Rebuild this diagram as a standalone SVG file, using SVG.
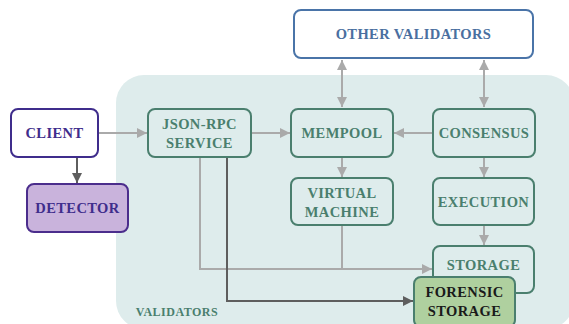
<svg xmlns="http://www.w3.org/2000/svg" width="569" height="324" viewBox="0 0 569 324">
<style>
text{font-family:"Liberation Serif","Times New Roman",serif;font-weight:bold;font-size:14.5px;letter-spacing:0.4px;text-anchor:middle;dominant-baseline:central}
.g rect{fill:#deecec;stroke:#4a7f6e;stroke-width:2}
.g text{fill:#4a7f6e}
.ln{fill:none;stroke:#aaaaaa;stroke-width:2}
.dk{fill:none;stroke:#5e5e5e;stroke-width:2}
</style>
<defs>
<marker id="ag" viewBox="0 0 10 10" refX="10" refY="5" markerWidth="5" markerHeight="5" orient="auto-start-reverse" markerUnits="strokeWidth"><path d="M0,0 L10,5 L0,10 z" fill="#aaaaaa"/></marker>
<marker id="ad" viewBox="0 0 10 10" refX="10" refY="5" markerWidth="5" markerHeight="5" orient="auto-start-reverse" markerUnits="strokeWidth"><path d="M0,0 L10,5 L0,10 z" fill="#5e5e5e"/></marker>
</defs>
<rect width="569" height="324" fill="#ffffff"/>
<g id="validators-group">
<rect x="116" y="75" width="458" height="254" rx="28" fill="#deecec"/>
<text x="177" y="312" style="font-size:12px;letter-spacing:0.5px;fill:#4a7f6e">VALIDATORS</text>
</g>
<g id="connectors">
<path class="ln" d="M98,133 H147" marker-end="url(#ag)"/>
<path class="ln" d="M251,133 H290" marker-end="url(#ag)"/>
<path class="ln" d="M433,133 H394" marker-end="url(#ag)"/>
<path class="ln" d="M342,60 V107" marker-start="url(#ag)" marker-end="url(#ag)"/>
<path class="ln" d="M484,60 V107" marker-start="url(#ag)" marker-end="url(#ag)"/>
<path class="ln" d="M342,157 V177" marker-end="url(#ag)"/>
<path class="ln" d="M484,157 V177" marker-end="url(#ag)"/>
<path class="ln" d="M484,225 V245" marker-end="url(#ag)"/>
<path class="ln" d="M200,157 V269 H432" marker-end="url(#ag)"/>
<path class="ln" d="M342,225 V269"/>
<path class="dk" d="M227,157 V301 H413" marker-end="url(#ad)"/>
<path class="dk" d="M77,157 V183" marker-end="url(#ad)"/>
</g>
<g id="client"><rect x="11" y="109" width="87" height="48" rx="7" fill="#ffffff" stroke="#3f2d8c" stroke-width="2"/><text x="54.5" y="133" fill="#3f2d8c">CLIENT</text></g>
<g id="detector"><rect x="27" y="184" width="101" height="48" rx="7" fill="#c9b3dc" stroke="#4b2d8c" stroke-width="2"/><text x="77.5" y="208" fill="#3f2d8c">DETECTOR</text></g>
<g id="other-validators"><rect x="294" y="10" width="239" height="48" rx="7" fill="#ffffff" stroke="#4a74a8" stroke-width="2"/><text x="413.5" y="34" fill="#4a6fa0">OTHER VALIDATORS</text></g>
<g id="json-rpc" class="g"><rect x="148" y="109" width="103" height="48" rx="7"/><text x="199.5" y="124">JSON-RPC</text><text x="199.5" y="143">SERVICE</text></g>
<g id="mempool" class="g"><rect x="291" y="109" width="102" height="48" rx="7"/><text x="342" y="133">MEMPOOL</text></g>
<g id="consensus" class="g"><rect x="433" y="109" width="102" height="48" rx="7"/><text x="484" y="133">CONSENSUS</text></g>
<g id="virtual-machine" class="g"><rect x="291" y="178" width="102" height="47" rx="7"/><text x="342" y="193">VIRTUAL</text><text x="342" y="212">MACHINE</text></g>
<g id="execution" class="g"><rect x="433" y="178" width="101" height="47" rx="7"/><text x="483.5" y="202">EXECUTION</text></g>
<g id="storage" class="g"><rect x="433" y="246" width="101" height="47" rx="7"/><text x="483.5" y="265">STORAGE</text></g>
<g id="forensic-storage"><rect x="414" y="277" width="101" height="50" rx="7" fill="#afd09f" stroke="#4a7f6e" stroke-width="2"/><text x="464.5" y="292" fill="#1a1a1a">FORENSIC</text><text x="464.5" y="311" fill="#1a1a1a">STORAGE</text></g>
</svg>
